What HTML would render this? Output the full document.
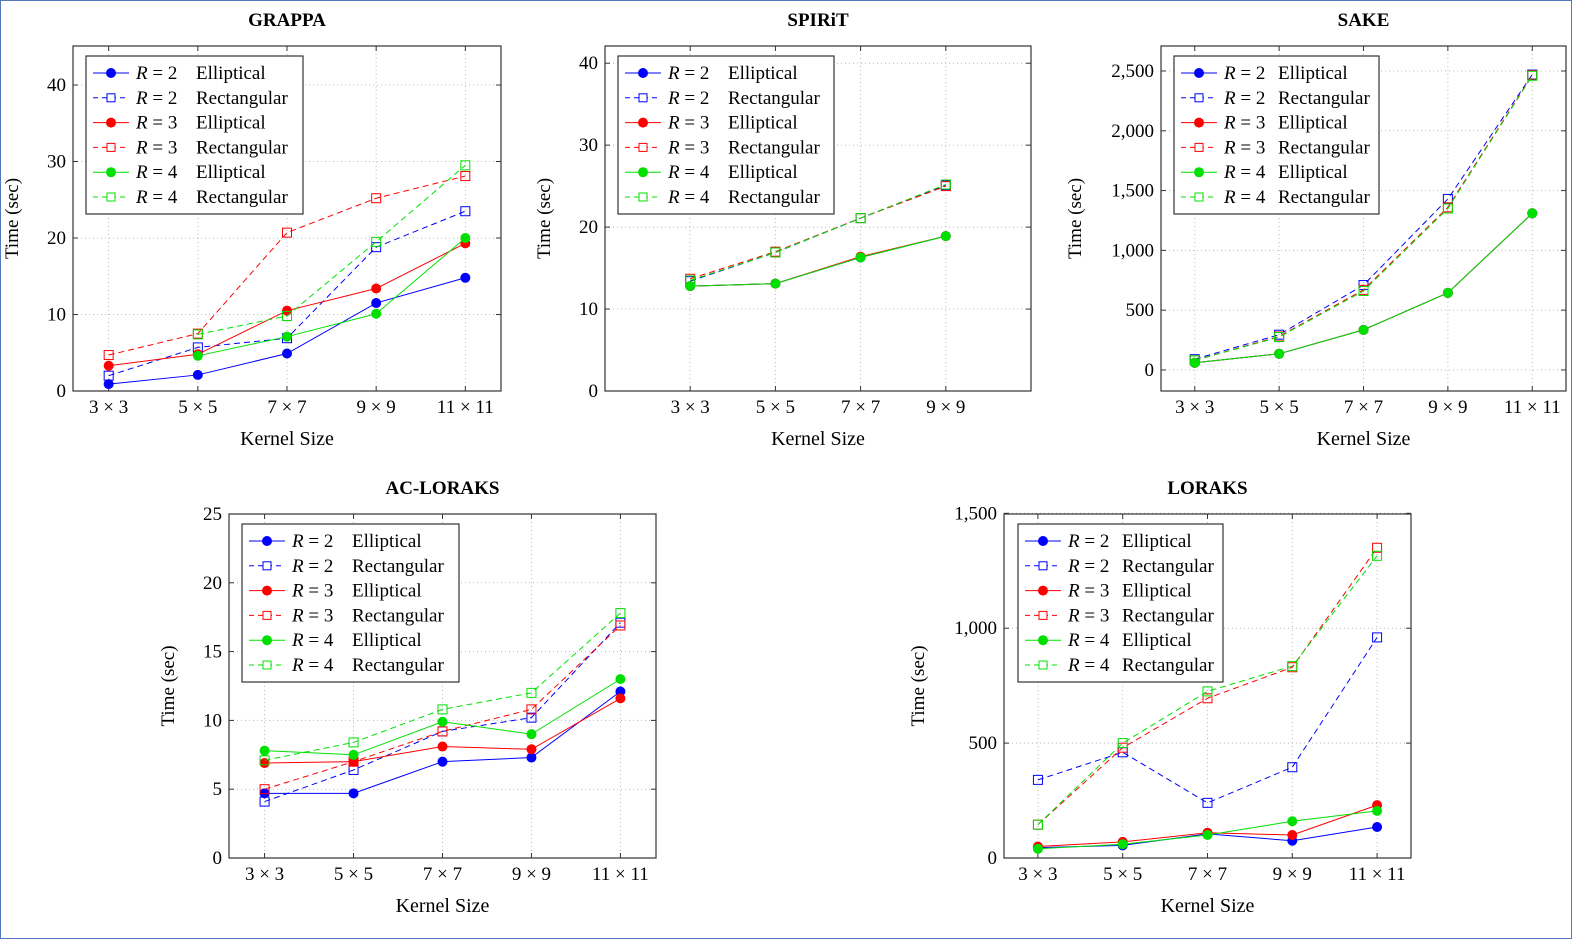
<!DOCTYPE html>
<html><head><meta charset="utf-8"><style>
html,body{margin:0;padding:0;background:#fff}
#wrap{position:relative;width:1570px;height:937px;border:1px solid #5577bb;overflow:hidden}
svg{position:absolute;left:0;top:0}
text{font-family:"Liberation Serif",serif;fill:#000}
</style></head><body>
<div id="wrap">
<svg id="s" width="1572" height="939"></svg>
</div>
<script>
const K5 = ["3 × 3","5 × 5","7 × 7","9 × 9","11 × 11"];
const K4 = ["3 × 3","5 × 5","7 × 7","9 × 9"];
const seriesNames = ["R2E","R2R","R3E","R3R","R4E","R4R"];
const grappaVals = [[0.9,2.1,4.9,11.5,14.8],[2.0,5.7,6.9,18.8,23.5],[3.3,4.8,10.5,13.4,19.3],[4.7,7.5,20.7,25.2,28.1],[null,4.6,7.1,10.1,20.0],[null,7.4,9.8,19.5,29.5]];
const spiritVals = [[12.8,13.1,16.3,18.9],[13.4,16.9,21.1,25.1],[12.8,13.1,16.4,18.9],[13.7,17.0,21.1,25.0],[12.8,13.1,16.3,18.9],[13.5,16.9,21.1,25.2]];
const sakeVals = [[60,135,335,645,1310],[90,295,710,1430,2470],[60,135,335,645,1310],[80,280,670,1360,2465],[60,135,335,645,1310],[80,275,660,1350,2460]];
const acVals = [[4.7,4.7,7.0,7.3,12.1],[4.1,6.4,9.2,10.2,17.1],[6.9,7.0,8.1,7.9,11.6],[5.0,7.0,9.2,10.8,16.9],[7.8,7.5,9.9,9.0,13.0],[7.1,8.4,10.8,12.0,17.8]];
const lorVals = [[45,55,105,75,135],[340,460,240,395,960],[50,70,110,100,230],[145,480,695,830,1350],[40,60,100,160,205],[145,500,725,835,1315]];
const grappaTicks=[0,10,20,30,40], spiritTicks=[0,10,20,30,40], sakeTicks=[0,500,1000,1500,2000,2500], acTicks=[0,5,10,15,20,25], lorTicks=[0,500,1000,1500];

const colors=["#0000ff","#0000ff","#ff0000","#ff0000","#00e000","#00e000"];
const svg=document.getElementById('s');
const NS="http://www.w3.org/2000/svg";
function el(t,a,p){const e=document.createElementNS(NS,t);for(const k in a)e.setAttribute(k,a[k]);(p||svg).appendChild(e);return e;}
function fmt(v){return v>=1000?v.toLocaleString('en-US'):String(v);}
function chart(cfg){
  const g=el('g',{});
  
  
  const {x0,x1,y0,y1,xmin,xmax,ymin,ymax}=cfg;
  const X=i=>x0+(i-xmin)/(xmax-xmin)*(x1-x0);
  const Y=v=>y1-(v-ymin)/(ymax-ymin)*(y1-y0);
  cfg.cats.forEach((c,i)=>{const l=el('line',{x1:X(cfg.off+i),x2:X(cfg.off+i),y1:y0,y2:y1,stroke:'#bbb','stroke-dasharray':'1,3','stroke-width':1},g);});
  cfg.ticks.forEach(v=>{const l=el('line',{x1:x0,x2:x1,y1:Y(v),y2:Y(v),stroke:'#bbb','stroke-dasharray':'1,3','stroke-width':1},g);});
  const fr=el('rect',{x:x0,y:y0,width:x1-x0,height:y1-y0,fill:'none',stroke:'#333','stroke-width':1.2},g);
  
  cfg.cats.forEach((c,i)=>{const x=X(cfg.off+i);el('line',{x1:x,x2:x,y1:y1,y2:y1-5,stroke:'#333'},g);el('line',{x1:x,x2:x,y1:y0,y2:y0+5,stroke:'#333'},g);
    const t=el('text',{x:x,y:y1+22,'text-anchor':'middle','font-size':19},g);t.textContent=c;});
  cfg.ticks.forEach(v=>{const y=Y(v);el('line',{x1:x0,x2:x0+5,y1:y,y2:y,stroke:'#333'},g);el('line',{x1:x1,x2:x1-5,y1:y,y2:y,stroke:'#333'},g);
    const t=el('text',{x:x0-7,y:y+6,'text-anchor':'end','font-size':19},g);t.textContent=fmt(v);});
  const tt=el('text',{x:(x0+x1)/2,y:y0-20,'text-anchor':'middle','font-size':19,'font-weight':'bold'},g);tt.textContent=cfg.title;
  
  const xt=el('text',{x:(x0+x1)/2,y:y1+54,'text-anchor':'middle','font-size':20},g);xt.textContent='Kernel Size';
  
  const yx=x0-cfg.ylab, yy=(y0+y1)/2;
  const yt=el('text',{x:yx,y:yy,'text-anchor':'middle','font-size':19,transform:`rotate(-90 ${yx} ${yy})`},g);yt.textContent='Time (sec)';
  
  cfg.vals.forEach((arr,s)=>{
    const dashed=s%2===1;const col=colors[s];
    let d='';arr.forEach((v,i)=>{if(v==null)return;d+=(d?'L':'M')+X(cfg.off+i)+','+Y(v);});
    const p=el('path',{d:d,fill:'none',stroke:col,'stroke-width':1,'stroke-dasharray':dashed?'6,4':'none'},g);
    
    arr.forEach((v,i)=>{if(v==null)return;const x=X(cfg.off+i),y=Y(v);let m;
      if(dashed)m=el('rect',{x:x-4.5,y:y-4.5,width:9,height:9,fill:'none',stroke:col,'stroke-width':1},g);
      else m=el('circle',{cx:x,cy:y,r:5,fill:col},g);
      });
  });
  const lx=cfg.lx, ly=cfg.ly, lw=cfg.lw;
  const lr=el('rect',{x:lx,y:ly,width:lw,height:158,fill:'#fff',stroke:'#333','stroke-width':1.2},g);
  
  const labs=[["2","Elliptical"],["2","Rectangular"],["3","Elliptical"],["3","Rectangular"],["4","Elliptical"],["4","Rectangular"]];
  const off2 = lw>210?110:104;
  labs.forEach((L,s)=>{const y=ly+17+s*24.8;const col=colors[s];const dashed=s%2===1;
    el('line',{x1:lx+7,x2:lx+43,y1:y,y2:y,stroke:col,'stroke-dasharray':dashed?'5,4':'none'},g);
    if(dashed)el('rect',{x:lx+21,y:y-4,width:8,height:8,fill:'#fff',stroke:col},g);else el('circle',{cx:lx+25,cy:y,r:5,fill:col},g);
    const t=el('text',{x:lx+50,y:y+6,'font-size':19},g);
    t.innerHTML=`<tspan font-style="italic">R</tspan> = ${L[0]}`;
    const t2=el('text',{x:lx+off2,y:y+6,'font-size':19},g);t2.textContent=L[1];
    
    
  });
}
chart({name:'grappa',title:'GRAPPA',x0:72,x1:500,y0:45,y1:390,xmin:-0.4,xmax:4.4,off:0,ymin:0,ymax:45.1,cats:K5,ticks:grappaTicks,vals:grappaVals,lx:85,ly:55,lw:217,ylab:55});
chart({name:'spirit',title:'SPIRiT',x0:604,x1:1030,y0:45,y1:390,xmin:0,xmax:5,off:1,ymin:0,ymax:42.1,cats:K4,ticks:spiritTicks,vals:spiritVals,lx:617,ly:55,lw:216,ylab:55});
chart({name:'sake',title:'SAKE',x0:1160,x1:1565,y0:45,y1:390,xmin:-0.4,xmax:4.4,off:0,ymin:-176,ymax:2709,cats:K5,ticks:sakeTicks,vals:sakeVals,lx:1173,ly:55,lw:205,ylab:80});
chart({name:'ac-loraks',title:'AC-LORAKS',x0:228,x1:655,y0:513,y1:857,xmin:-0.4,xmax:4.4,off:0,ymin:0,ymax:25,cats:K5,ticks:acTicks,vals:acVals,lx:241,ly:523,lw:217,ylab:55});
chart({name:'loraks',title:'LORAKS',x0:1003,x1:1410,y0:513,y1:857,xmin:-0.4,xmax:4.4,off:0,ymin:0,ymax:1497,cats:K5,ticks:lorTicks,vals:lorVals,lx:1017,ly:523,lw:205,ylab:80});
</script>
</body></html>
